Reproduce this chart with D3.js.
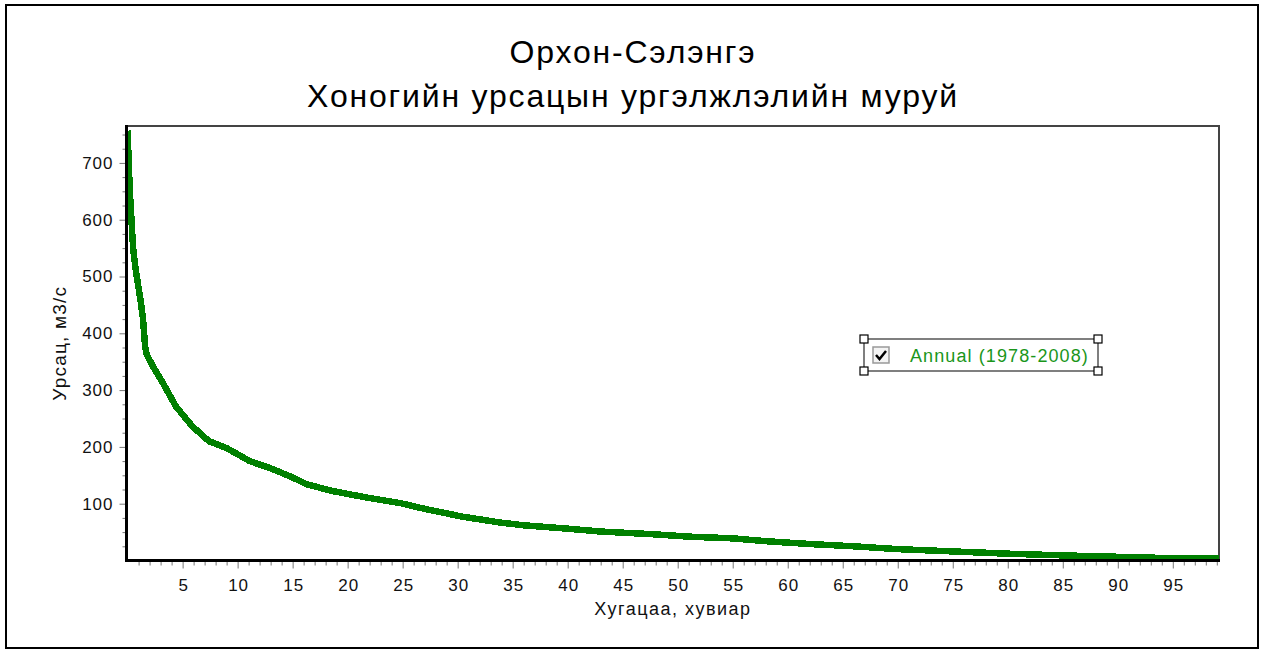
<!DOCTYPE html>
<html>
<head>
<meta charset="utf-8">
<script src="https://cdn.jsdelivr.net/npm/d3@7"></script>
<style>
  html, body { margin: 0; padding: 0; background: #fff; }
  svg { display: block; font-family: "Liberation Sans", Arial, sans-serif; }
</style>
</head>
<body>
<svg id="chart" width="1267" height="651"></svg>
<script>
// Duration curve: percent of time exceeded vs daily discharge (m3/s)
const exceedance = [0, 0.1, 0.2, 0.35, 0.5, 0.75, 1.0, 1.2, 1.4, 1.6, 1.75, 2.3, 3.2, 4.4, 5.9, 7.4, 9.0,
  11.1, 12.9, 14.8, 16.3, 18.7, 21.7, 24.8, 27.2, 30.5, 33.8, 36, 40, 43, 48, 51, 55, 58, 62, 66,
  70, 75, 80, 85, 90, 95, 99.2];
const discharge = [757, 700, 650, 600, 550, 510, 480, 455, 425, 375, 362, 342, 313, 271, 236, 210, 198,
  175, 163, 148, 134, 122, 111, 101, 90, 77, 67, 62, 56, 51, 46, 42, 39, 34, 29, 25,
  20, 16, 12, 9, 6.5, 4, 3.5];
const seriesName = "Annual (1978-2008)";
const titleLines = ["Орхон-Сэлэнгэ", "Хоногийн урсацын ургэлжлэлийн муруй"];
const xTitle = "Хугацаа, хувиар";
const yTitle = "Урсац, м3/с";
const xMajorTicks = [5, 10, 15, 20, 25, 30, 35, 40, 45, 50, 55, 60, 65, 70, 75, 80, 85, 90, 95];
const yMajorTicks = [100, 200, 300, 400, 500, 600, 700];

const svg = d3.select("#chart");
const plot = { left: 126.5, right: 1219, top: 126, bottom: 560.5 };

// outer frame
svg.append("rect").attr("x", 6).attr("y", 5).attr("width", 1252).attr("height", 643)
  .attr("fill", "#fff").attr("stroke", "#000").attr("stroke-width", 2);

// titles
svg.selectAll("text.title").data(titleLines).join("text")
  .attr("class", "title")
  .attr("x", 633).attr("y", (d, i) => 63 + i * 44)
  .attr("text-anchor", "middle")
  .attr("font-size", 32).attr("letter-spacing", 1.8).attr("fill", "#000")
  .text(d => d);

const x = d3.scaleLinear().domain([-0.1, 99.2]).range([plot.left, plot.right]);
const y = d3.scaleLinear().domain([0, 765]).range([plot.bottom, plot.top]);

// plot frame (top and right edges)
svg.append("path")
  .attr("d", `M${plot.left},${plot.top}H${plot.right}V${plot.bottom}`)
  .attr("fill", "none").attr("stroke", "#444").attr("stroke-width", 2);

// clip for the curve
svg.append("clipPath").attr("id", "plotclip").append("rect")
  .attr("x", plot.left).attr("y", plot.top)
  .attr("width", plot.right - plot.left).attr("height", plot.bottom - plot.top);

const pts = exceedance.map((p, i) => [p, discharge[i]]);
const line = d3.line().x(d => x(d[0])).y(d => y(d[1]));
svg.append("path")
  .datum(pts)
  .attr("clip-path", "url(#plotclip)")
  .attr("d", line)
  .attr("fill", "none")
  .attr("stroke", "#008000")
  .attr("stroke-width", 6.5)
  .attr("stroke-linejoin", "miter")
  .attr("shape-rendering", "crispEdges");

const tickFont = g => g.selectAll("text")
  .attr("font-size", 17).attr("letter-spacing", 1).attr("fill", "#111")
  .attr("font-family", "Liberation Sans, Arial, sans-serif");

// x axis: minor ticks every 1, major every 5
const xMinor = d3.range(1, 100).filter(v => v % 5 !== 0);
const gx = svg.append("g").attr("transform", `translate(0,${plot.bottom})`);
gx.append("g").call(d3.axisBottom(x).tickValues(xMinor).tickSize(5).tickFormat(""))
  .call(g => g.select(".domain").remove());
gx.append("g").call(d3.axisBottom(x).tickValues(xMajorTicks).tickSize(8).tickPadding(10))
  .call(g => g.select(".domain").remove());
gx.selectAll("line").attr("stroke", "#777");
gx.call(tickFont);
gx.selectAll("text").attr("dx", "0.5");

// y axis: minor ticks every 25, major every 100
const yMinor = d3.range(25, 765, 25).filter(v => v % 100 !== 0);
const gy = svg.append("g").attr("transform", `translate(${plot.left},0)`);
gy.append("g").call(d3.axisLeft(y).tickValues(yMinor).tickSize(4).tickFormat(""))
  .call(g => g.select(".domain").remove());
gy.append("g").call(d3.axisLeft(y).tickValues(yMajorTicks).tickSize(7).tickPadding(6))
  .call(g => g.select(".domain").remove());
gy.selectAll("line").attr("stroke", "#777");
gy.call(tickFont);

// heavy axis lines
svg.append("path")
  .attr("d", `M${plot.left},${plot.top - 1}V${plot.bottom}H${plot.right + 1}`)
  .attr("fill", "none").attr("stroke", "#000").attr("stroke-width", 3);

// axis titles
svg.append("text")
  .attr("x", 673).attr("y", 615)
  .attr("text-anchor", "middle").attr("font-size", 18).attr("letter-spacing", 1.5).attr("fill", "#111")
  .text(xTitle);
svg.append("text")
  .attr("transform", `translate(66,${(plot.top + plot.bottom) / 2}) rotate(-90)`)
  .attr("text-anchor", "middle").attr("font-size", 19).attr("letter-spacing", 1.2).attr("fill", "#111")
  .text(yTitle);

// legend box with selection handles
const lg = { x: 864, y: 339, w: 234, h: 32 };
const legend = svg.append("g");
legend.append("rect").attr("x", lg.x).attr("y", lg.y).attr("width", lg.w).attr("height", lg.h)
  .attr("fill", "#fff").attr("stroke", "#555").attr("stroke-width", 1.5);
legend.append("rect").attr("x", lg.x + 9).attr("y", lg.y + 8).attr("width", 16).attr("height", 16)
  .attr("fill", "#f4f4f4").attr("stroke", "#999").attr("stroke-width", 1.5);
legend.append("path")
  .attr("d", `M${lg.x + 12},${lg.y + 16} l3.5,4 l6.5,-8`)
  .attr("fill", "none").attr("stroke", "#000").attr("stroke-width", 2.5);
legend.append("text")
  .attr("x", lg.x + 46).attr("y", lg.y + 23)
  .attr("font-size", 18).attr("letter-spacing", 1.1).attr("fill", "#1a961a")
  .text(seriesName);
[[lg.x, lg.y], [lg.x + lg.w, lg.y], [lg.x, lg.y + lg.h], [lg.x + lg.w, lg.y + lg.h]].forEach(([hx, hy]) => {
  legend.append("rect").attr("x", hx - 4).attr("y", hy - 4).attr("width", 8).attr("height", 8)
    .attr("fill", "#fff").attr("stroke", "#000").attr("stroke-width", 1.2);
});
</script>
</body>
</html>
